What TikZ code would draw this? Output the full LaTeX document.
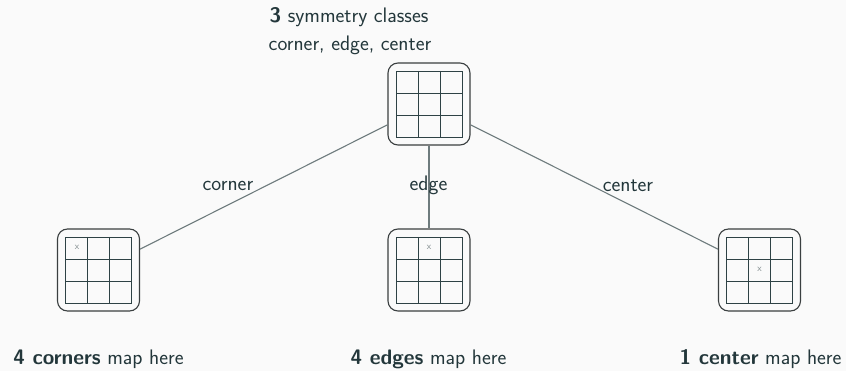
\documentclass[tikz,border=0pt]{standalone}
\usepackage{xcolor}
\definecolor{bgc}{HTML}{FAFAFA}
\definecolor{txt}{HTML}{23373B}
\definecolor{gridc}{HTML}{2E4245}
\definecolor{conn}{HTML}{6E7B7D}
\definecolor{frame}{HTML}{3A3F40}
\definecolor{mark}{HTML}{7A8587}
\tikzset{
  board/.style={draw=frame, line width=1.1pt, rounded corners=10pt, minimum width=82pt, minimum height=82pt, inner sep=0pt},
  lbl/.style={text=txt, font=\sffamily\fontsize{21}{25}\selectfont, inner sep=0pt},
  conline/.style={draw=conn, line width=1.1pt},
  gridline/.style={draw=gridc, line width=0.85pt},
  xmark/.style={text=mark, font=\sffamily\fontsize{9.5}{9.5}\selectfont, inner sep=0pt},
}
\newcommand{\drawgrid}[1]{%
  \draw[gridline] ($(#1.center)+(-33,-33)$) rectangle ($(#1.center)+(33,33)$);
  \draw[gridline] ($(#1.center)+(-11,-33)$) -- ($(#1.center)+(-11,33)$);
  \draw[gridline] ($(#1.center)+(11,-33)$) -- ($(#1.center)+(11,33)$);
  \draw[gridline] ($(#1.center)+(-33,-11)$) -- ($(#1.center)+(33,-11)$);
  \draw[gridline] ($(#1.center)+(-33,11)$) -- ($(#1.center)+(33,11)$);
}
\usetikzlibrary{calc}
\begin{document}
\begin{tikzpicture}[x=1pt,y=-1pt]
\fill[bgc] (0,0) rectangle (846,371);
\useasboundingbox (0,0) rectangle (846,371);

\node[board] (top) at (429,104) {};
\node[board] (bl) at (98.5,270) {};
\node[board] (bm) at (429,270) {};
\node[board] (br) at (759.5,270) {};

\draw[conline] (top) -- (bl) node[lbl, midway, anchor=east, xshift=-10pt, yshift=1pt] (lc) {corner};
\draw[conline] (top) -- (bm);
\draw[conline] (top) -- (br) node[lbl, midway, anchor=west, xshift=8pt, yshift=1pt] (lr) {center};
\node[lbl, anchor=base] (lm) at (428.5,191) {edge};

\drawgrid{top}
\drawgrid{bl}
\drawgrid{bm}
\drawgrid{br}

\node[xmark] (x1) at ($(bl.center)+(-21.5,-23)$) {x};
\node[xmark] (x2) at ($(bm.center)+(0,-23)$) {x};
\node[xmark] (x3) at ($(br.center)+(0,-1)$) {x};

\node[lbl, anchor=base] (t1) at (349,23) {\textbf{3} symmetry classes};
\node[lbl, anchor=base] (t2) at (350,51) {corner, edge, center};

\node[lbl, anchor=base] (b1) at (98.5,364) {\textbf{4 corners} map here};
\node[lbl, anchor=base] (b2) at (428.5,364) {\textbf{4 edges} map here};
\node[lbl, anchor=base] (b3) at (760.5,364) {\textbf{1 center} map here};
\end{tikzpicture}
\end{document}
